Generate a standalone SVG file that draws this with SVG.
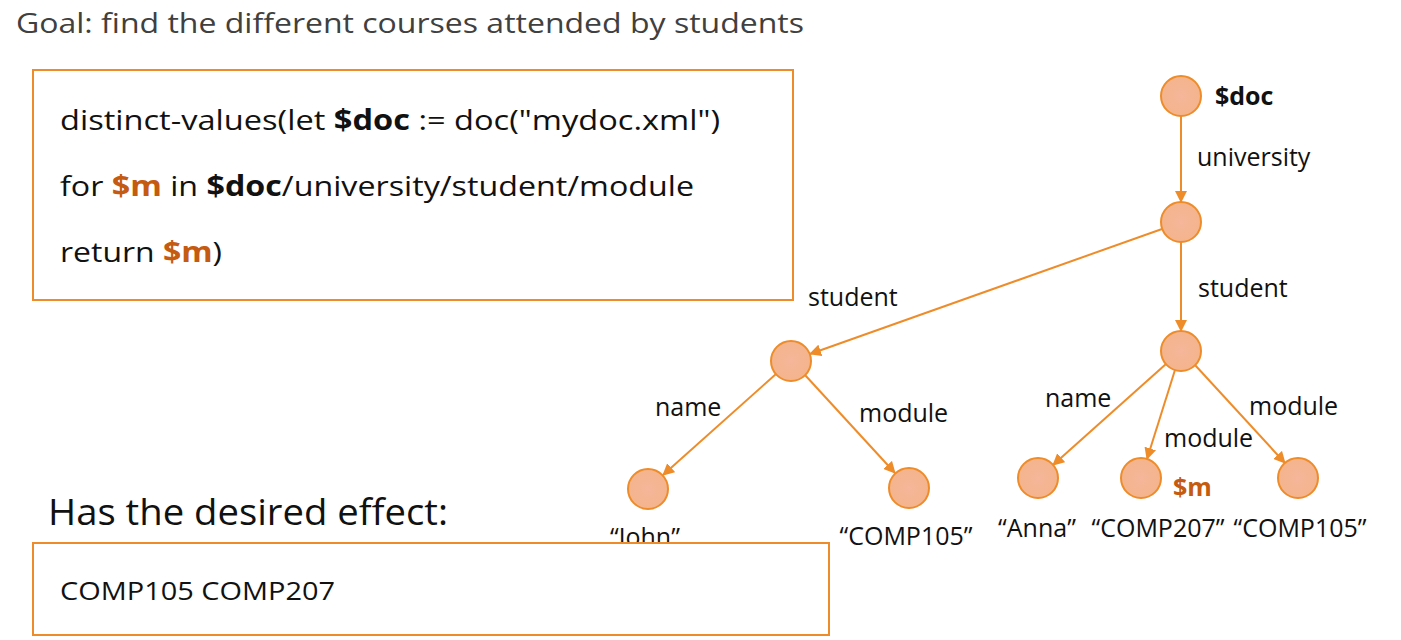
<svg xmlns="http://www.w3.org/2000/svg" width="1401" height="640" viewBox="0 0 1401 640">
<style>
text{font-family:"Open Sans","Liberation Sans",sans-serif;fill:#111}
.code{font-size:28px}
.lbl{font-size:25px}
.b{font-weight:bold}
.m{font-weight:bold;fill:#C55A11}
.box{fill:#fff;stroke:#EE8C2A;stroke-width:2}
.node{fill:url(#g);stroke:#EE8C2A;stroke-width:2}
.edge{stroke:#EE8C2A;stroke-width:2;fill:none;marker-end:url(#arr)}
</style>
<defs>
<radialGradient id="g"><stop offset="0" stop-color="#F5B69A"/><stop offset="1" stop-color="#F4B48C"/></radialGradient>
<marker id="arr" markerWidth="12" markerHeight="12" viewBox="0 0 12 12" refX="11" refY="6" orient="auto" markerUnits="userSpaceOnUse"><path d="M0,0L12,6L0,12z" fill="#EE8C2A"/></marker>
</defs>
<rect width="1401" height="640" fill="#fff"/>
<text x="16" y="33" style="font-size:27px;fill:#404040" textLength="788" lengthAdjust="spacingAndGlyphs">Goal: find the different courses attended by students</text>
<g id="code">
<rect class="box" x="33" y="70" width="760" height="230"/>
<text class="code" x="60" y="130" textLength="660" lengthAdjust="spacingAndGlyphs">distinct-values(let <tspan class="b">$doc</tspan> := doc("mydoc.xml")</text>
<text class="code" x="60" y="196" textLength="634" lengthAdjust="spacingAndGlyphs">for <tspan class="m">$m</tspan> in <tspan class="b">$doc</tspan>/university/student/module</text>
<text class="code" x="60" y="262" textLength="162" lengthAdjust="spacingAndGlyphs">return <tspan class="m">$m</tspan>)</text>
</g>
<g id="connectors">
<line class="edge" x1="1181" y1="116" x2="1181" y2="202"/>
<line class="edge" x1="1181" y1="242" x2="1181" y2="331"/>
<line class="edge" x1="1162" y1="229" x2="810" y2="354"/>
<line class="edge" x1="776" y1="374" x2="663" y2="475"/>
<line class="edge" x1="805" y1="375" x2="895" y2="473"/>
<line class="edge" x1="1166" y1="364" x2="1053" y2="465"/>
<line class="edge" x1="1175" y1="370" x2="1147" y2="459"/>
<line class="edge" x1="1195" y1="365" x2="1285" y2="463"/>
</g>
<g id="edge-labels">
<text class="lbl" x="1197" y="166">university</text>
<text class="lbl" x="808" y="306">student</text>
<text class="lbl" x="1198" y="297">student</text>
<text class="lbl" x="655" y="416">name</text>
<text class="lbl" x="859" y="422">module</text>
<text class="lbl" x="1045" y="407">name</text>
<text class="lbl" x="1164" y="447">module</text>
<text class="lbl" x="1249" y="415">module</text>
</g>
<g id="n-doc"><circle class="node" cx="1181" cy="96" r="20"/><text x="1215" y="105" class="b" style="font-size:25px">$doc</text></g>
<g id="n-university"><circle class="node" cx="1181" cy="222" r="20"/></g>
<g id="n-student1"><circle class="node" cx="791" cy="361" r="20"/></g>
<g id="n-student2"><circle class="node" cx="1181" cy="351" r="20"/></g>
<g id="n-john"><circle class="node" cx="648" cy="489" r="20"/><text class="lbl" x="645" y="546" text-anchor="middle">“John”</text></g>
<g id="n-comp105a"><circle class="node" cx="909" cy="488" r="20"/><text class="lbl" x="906" y="545" text-anchor="middle">“COMP105”</text></g>
<g id="n-anna"><circle class="node" cx="1038" cy="478" r="20"/><text class="lbl" x="1037" y="537" text-anchor="middle">“Anna”</text></g>
<g id="n-comp207"><circle class="node" cx="1141" cy="478" r="20"/><text x="1173" y="496" class="m" style="font-size:25px">$m</text><text class="lbl" x="1158" y="537" text-anchor="middle">“COMP207”</text></g>
<g id="n-comp105b"><circle class="node" cx="1298" cy="478" r="20"/><text class="lbl" x="1300" y="537" text-anchor="middle">“COMP105”</text></g>
<text x="48" y="525" style="font-size:36px" textLength="400" lengthAdjust="spacingAndGlyphs">Has the desired effect:</text>
<g id="result">
<rect class="box" x="33" y="543" width="796" height="92"/>
<text x="60" y="600" style="font-size:26px" textLength="275" lengthAdjust="spacingAndGlyphs">COMP105 COMP207</text>
</g>
</svg>
